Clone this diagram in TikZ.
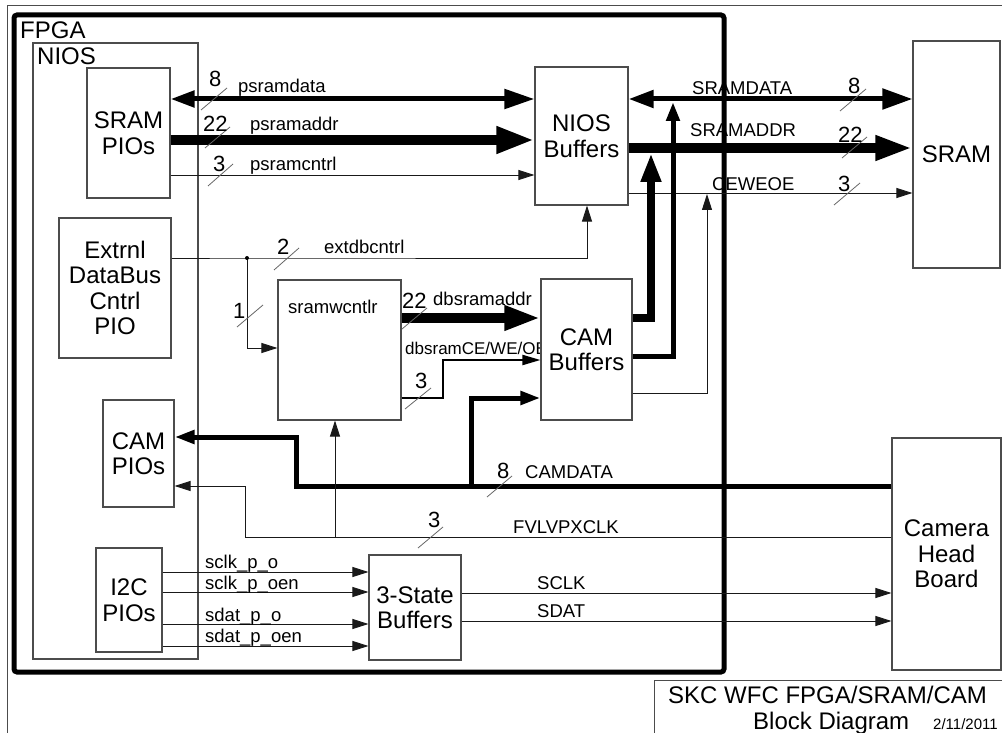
\documentclass[tikz,border=0pt]{standalone}
\usepackage{fontspec}
\setmainfont{Liberation Sans}
\usetikzlibrary{arrows.meta}
\newcommand\FontBig{\fontsize{24}{25.5}\selectfont}
\newcommand\FontLbl{\fontsize{18.5}{20}\selectfont}
\newcommand\FontNum{\fontsize{22}{24}\selectfont}
\newcommand\FontSm{\fontsize{17}{18}\selectfont}
\newcommand\FontDate{\fontsize{15}{16}\selectfont}
\begin{document}
\begin{tikzpicture}[x=1pt,y=-1pt,
  box/.style={draw=black!70, line width=1.1pt, fill=white, inner sep=0pt, align=center, font=\FontBig},
  frame/.style={draw=black!70, line width=1.1pt, inner sep=0pt},
  lbl/.style={anchor=base west, inner sep=0pt, font=\FontLbl},
  num/.style={anchor=base west, inner sep=0pt, font=\FontNum},
  big/.style={anchor=base west, inner sep=0pt, font=\FontBig},
  tick/.style={draw=black!60, line width=0.8pt},
  wire/.style={draw=black!90, line width=0.9pt},
  tarr/.style={wire, -{Triangle[length=16pt,width=10pt]}},
  bus5/.style={draw=black, line width=5pt},
  bus9/.style={draw=black, line width=9.5pt},
]
\useasboundingbox (0,0) rectangle (1002,733);
% page frame
\draw[draw=black!70, line width=1pt] (7,733) -- (7,6) -- (1002,6);
% title block
\draw[draw=black!70, line width=1pt] (654,733) -- (654,680) -- (1002,680);
\node[big] (t1) at (668,703) {SKC WFC FPGA/SRAM/CAM};
\node[big] (t2) at (753,729) {Block Diagram};
\node[anchor=base west, inner sep=0pt, font=\FontDate] (t3) at (933,729) {2/11/2011};

% big frames
\node[draw=black, line width=5pt, rounded corners=3pt, minimum width=710pt, minimum height=657pt, inner sep=0pt] (fpga) at (369,343.5) {};
\node[big] (fpgal) at (20,39) {FPGA};
\node[frame, minimum width=165pt, minimum height=616pt] (nios) at (115.5,351) {};
\node[big] (niosl) at (37,65) {NIOS};

% label partly hidden by CAM Buffers
\node[anchor=base west, inner sep=0pt, font=\FontSm] (dbce) at (405,354) {dbsramCE/WE/OE};

% boxes
\node[box, minimum width=83pt, minimum height=130pt] (sp) at (128.5,133) {SRAM\\PIOs};
\node[box, minimum width=112pt, minimum height=140pt] (ext) at (115,288) {Extrnl\\DataBus\\Cntrl\\PIO};
\node[box, minimum width=71pt, minimum height=107pt] (cp) at (138.5,453.5) {CAM\\PIOs};
\node[box, minimum width=66pt, minimum height=104pt] (i2c) at (129,600) {I2C\\PIOs};
\node[box, minimum width=93pt, minimum height=138pt] (nbuf) at (581.5,136) {NIOS\\Buffers};
\node[box, minimum width=87pt, minimum height=227pt] (sram) at (956.5,154.5) {SRAM};
\node[box, minimum width=123pt, minimum height=140pt] (sw) at (339.5,350) {};
\node[lbl] (swl) at (288,313) {sramwcntlr};
\node[box, minimum width=91pt, minimum height=141pt] (cb) at (586.5,349.5) {CAM\\Buffers};
\node[box, minimum width=109pt, minimum height=232pt] (chb) at (946.5,554) {Camera\\Head\\Board};
\node[box, minimum width=92pt, minimum height=105pt] (tsb) at (415,607.5) {3-State\\Buffers};

% NIOS <-> NIOS Buffers
\draw[bus5, {Triangle[length=24pt,width=16pt]}-{Triangle[length=30pt,width=19pt]}] (sp.east |- 0,99) -- (nbuf.west |- 0,99);
\draw[bus9, -{Triangle[length=38pt,width=25pt]}] (sp.east |- 0,140) -- (nbuf.west |- 0,140);
\draw[tarr] (sp.east |- 0,175) -- (nbuf.west |- 0,175);
\draw[tick] (201,110) -- (227,88);
\draw[tick] (205,148) -- (230,127);
\draw[tick] (208,186) -- (233,164);
\node[num] (n1) at (209,87) {8};
\node[lbl] (l1) at (238,93) {psramdata};
\node[num] (n2) at (203,132) {22};
\node[lbl] (l2) at (250,131) {psramaddr};
\node[num] (n3) at (213,172) {3};
\node[lbl] (l3) at (250,171) {psramcntrl};

% NIOS Buffers <-> SRAM
\draw[bus5, {Triangle[length=25pt,width=17pt]}-{Triangle[length=30pt,width=20pt]}] (nbuf.east |- 0,99) -- (sram.west |- 0,99);
\draw[bus9, -{Triangle[length=37pt,width=23pt]}] (nbuf.east |- 0,148) -- (sram.west |- 0,148);
\draw[tarr] (nbuf.east |- 0,193) -- (sram.west |- 0,193);
\draw[tick] (840,111) -- (866,89);
\draw[tick] (842,158) -- (867,137);
\draw[tick] (834,205) -- (860,183);
\node[lbl] (l4) at (692,95) {SRAMDATA};
\node[num] (n4) at (848,94) {8};
\node[lbl] (l5) at (690,137) {SRAMADDR};
\node[num] (n5) at (838,143) {22};
\node[lbl] (l6) at (712,190) {CEWEOE};
\node[num] (n6) at (838,192) {3};

% extdbcntrl
\coordinate (j1) at (247,258);
\draw[tarr] (ext.east |- j1) -- (j1) -| ([xshift=5.5pt]nbuf.south);
\draw[tarr] (j1) |- (sw.west |- 0,348);
\fill[black] (j1) circle (2pt);
\draw[tick] (274,270) -- (299,248);
\draw[tick] (237,327) -- (263,305);
\node[num] (n7) at (277,254) {2};
\node[lbl] (l7) at (324,253) {extdbcntrl};
\node[num] (n8) at (233,318) {1};

% sramwcntlr -> CAM Buffers
\draw[bus9, -{Triangle[length=36pt,width=23pt]}] (sw.east |- 0,318) -- (cb.west |- 0,318);
\coordinate (c1) at (443,360);
\draw[draw=black, line width=2pt, -{Triangle[length=18pt,width=10pt]}] (sw.east |- 0,398) -| (c1) -- (cb.west |- c1);
\draw[tick] (402,329) -- (427,308);
\draw[tick] (405,409) -- (431,388);
\node[num] (n9) at (402,308) {22};
\node[lbl] (l9) at (433,305) {dbsramaddr};
\node[num] (n10) at (415,388) {3};

% CAM Buffers -> NIOS Buffers outputs
\coordinate (u1) at (651,153);
\coordinate (u2) at (673,102);
\coordinate (u3) at (707,194);
\draw[draw=black, line width=8pt, -{Triangle[length=29pt,width=19pt]}] (cb.east |- 0,318) -| (u1);
\draw[bus5, -{Triangle[length=19pt,width=13pt]}] (cb.east |- 0,356) -| (u2);
\draw[tarr] (cb.east |- 0,393) -| (u3);

% CAMDATA
\coordinate (c2) at (296,437);
\coordinate (b1) at (471,486);
\draw[bus5, -{Triangle[length=20pt,width=13pt]}] (chb.west |- 0,486) -| (c2) -- (cp.east |- c2);
\draw[bus5, -{Triangle[length=20pt,width=13pt]}] (b1) |- (cb.west |- 0,398);
\draw[tick] (487,497) -- (512,476);
\node[num] (n11) at (497,478) {8};
\node[lbl] (l11) at (525,478) {CAMDATA};

% FVLVPXCLK
\coordinate (c3) at (245,486);
\coordinate (b2) at (335,537);
\draw[tarr] (chb.west |- 0,537) -| (c3) -- (cp.east |- c3);
\draw[tarr] (b2) -- (sw.south -| b2);
\draw[tick] (418,548) -- (443,527);
\node[num] (n12) at (428,527) {3};
\node[lbl] (l12) at (513,533) {FVLVPXCLK};

% I2C
\draw[tarr] (i2c.east |- 0,572) -- (tsb.west |- 0,572);
\draw[tarr] (i2c.east |- 0,592) -- (tsb.west |- 0,592);
\draw[tarr] (i2c.east |- 0,624) -- (tsb.west |- 0,624);
\draw[tarr] (i2c.east |- 0,646) -- (tsb.west |- 0,646);
\node[lbl] (l13) at (205,568) {sclk\_p\_o};
\node[lbl] (l14) at (205,589) {sclk\_p\_oen};
\node[lbl] (l15) at (205,621) {sdat\_p\_o};
\node[lbl] (l16) at (205,642) {sdat\_p\_oen};

% 3-State -> Camera Head
\draw[tarr] (tsb.east |- 0,593) -- (chb.west |- 0,593);
\draw[tarr] (tsb.east |- 0,621) -- (chb.west |- 0,621);
\node[lbl] (l17) at (537,589) {SCLK};
\node[lbl] (l18) at (537,617) {SDAT};
\end{tikzpicture}
\end{document}
